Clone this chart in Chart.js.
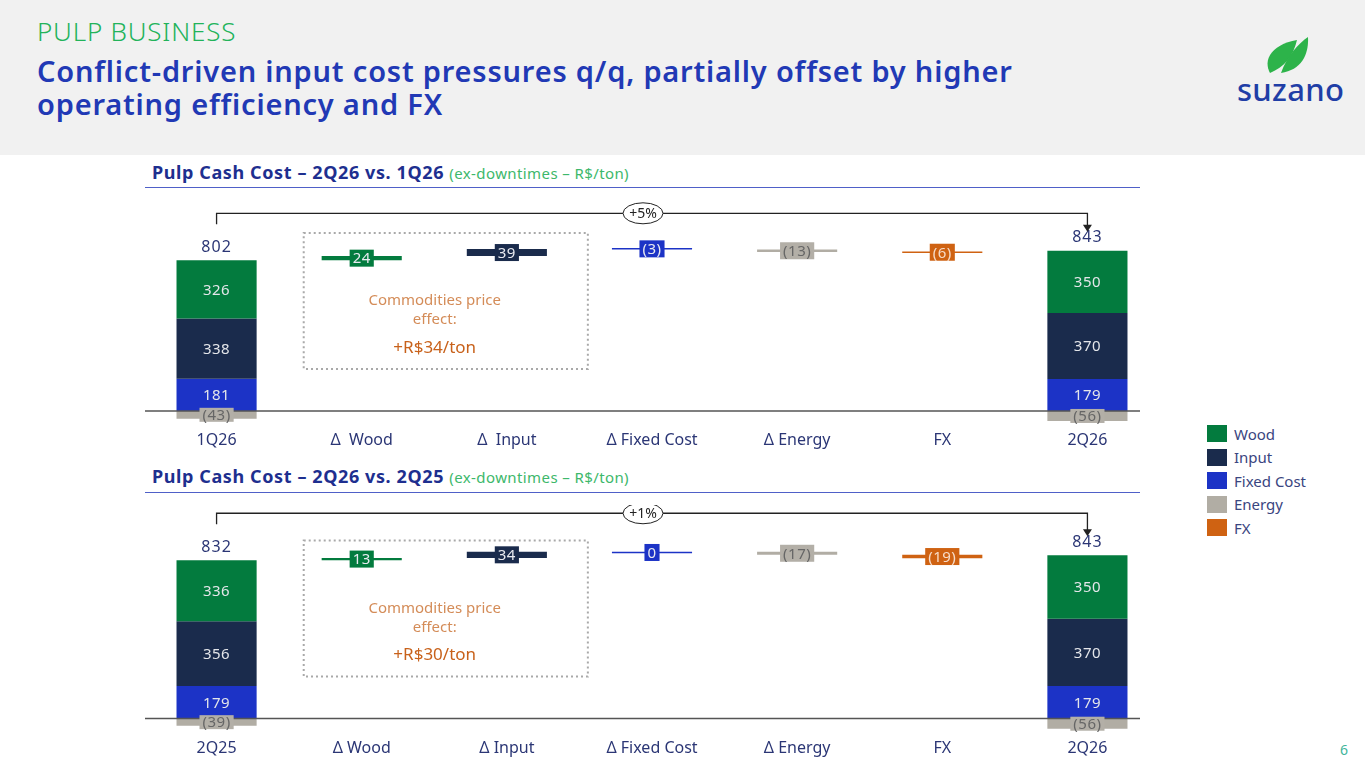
<!DOCTYPE html>
<html>
<head>
<meta charset="utf-8">
<script src="https://cdn.jsdelivr.net/npm/chart.js@4"></script>
<style>
  body { margin: 0; width: 1365px; height: 768px; overflow: hidden; background: #fff; font-family: 'Noto Sans', sans-serif; position: relative; }
  .topo { position: absolute; left: 0; top: 0; width: 1365px; height: 155px; background: #F1F1F1; }
  .secao { position: absolute; left: 37px; top: 13px; font-size: 26px; font-weight: 300; color: #22B35A; letter-spacing: 0.8px; }
  .titulo { position: absolute; left: 37px; top: 54px; font-size: 29px; font-weight: 600; color: #2139B5; line-height: 33px; letter-spacing: 0.8px; }
  .marca { position: absolute; left: 1237px; top: 68px; font-size: 31px; font-weight: 500; color: #1F3EA6; letter-spacing: 0.3px; }
  .subtitulo { position: absolute; left: 152px; font-size: 18px; font-weight: 700; color: #1E2F8F; letter-spacing: 0.6px; }
  .subtitulo span { font-weight: 400; font-size: 15px; color: #3DB86B; letter-spacing: 0.4px; }
  .linha { position: absolute; left: 145px; width: 995px; height: 0; border-top: 1.5px solid #4F60C8; }
  canvas { position: absolute; left: 144px; }
  .legenda { position: absolute; left: 1207px; top: 422px; }
  .item { height: 23.5px; display: flex; align-items: center; font-size: 15px; color: #3A4580; }
  .item i { display: inline-block; width: 20px; height: 17px; margin-right: 7px; }
  .pagina { position: absolute; left: 1340px; top: 740px; font-size: 14px; color: #40B59A; }
</style>
</head>
<body>
<div class="topo"></div>
<div class="secao">PULP BUSINESS</div>
<div class="titulo">Conflict-driven input cost pressures q/q, partially offset by higher<br>operating efficiency and FX</div>
<svg style="position:absolute;left:0;top:0" width="1365" height="155">
  <path d="M1270 73 C1262 58 1274 44 1297 40 C1293 57 1284 67 1270 73 Z" fill="#2DB34A"/>
  <path d="M1281 73 C1301 70 1309 55 1308 37 C1298 44 1287 56 1281 73 Z" fill="#2DB34A"/>
</svg>
<div class="marca">suzano</div>

<div class="subtitulo" style="top:160px">Pulp Cash Cost – 2Q26 vs. 1Q26 <span>(ex-downtimes – R$/ton)</span></div>
<div class="linha" style="top:187px"></div>
<canvas id="grafico-trimestre" width="1016" height="255" style="top:197px;width:1016px;height:255px"></canvas>

<div class="subtitulo" style="top:464px">Pulp Cash Cost – 2Q26 vs. 2Q25 <span>(ex-downtimes – R$/ton)</span></div>
<div class="linha" style="top:492px"></div>
<canvas id="grafico-ano" width="1016" height="255" style="top:505px;width:1016px;height:255px"></canvas>

<div class="legenda" id="legenda"></div>
<div class="pagina">6</div>

<script>
const series = ['Wood', 'Input', 'Fixed Cost', 'Energy', 'FX'];
const cores = ['#037B3E', '#1A2B4C', '#1C33C6', '#B1ADA4', '#CF6212'];

// 2Q26 vs 1Q26
const categoriasTri = ['1Q26', 'Δ  Wood', 'Δ  Input', 'Δ Fixed Cost', 'Δ Energy', 'FX', '2Q26'];
const inicioTri = [326, 338, 181, -43];   // Wood, Input, Fixed Cost, Energy
const variacaoTri = [24, 39, -3, -13, -6];
const fimTri = [350, 370, 179, -56];
const totaisTri = [802, 843];

// 2Q26 vs 2Q25
const categoriasAno = ['2Q25', 'Δ Wood', 'Δ Input', 'Δ Fixed Cost', 'Δ Energy', 'FX', '2Q26'];
const inicioAno = [336, 356, 179, -39];
const variacaoAno = [13, 34, 0, -17, -19];
const fimAno = [350, 370, 179, -56];
const totaisAno = [832, 843];

let chartInstances = {};

function rotulo(v) {
  return v < 0 ? '(' + Math.abs(v) + ')' : String(v);
}

// faixas empilhadas de uma coluna de total: Fixed Cost embaixo, depois Input, Wood; Energy negativa
function faixasTotal(comp) {
  const wood = comp[0], input = comp[1], fixo = comp[2], energia = comp[3];
  return [
    [fixo + input, fixo + input + wood],
    [fixo, fixo + input],
    [0, fixo],
    [energia, 0],
    null
  ];
}

function montarDatasets(inicio, variacao, fim) {
  const a = faixasTotal(inicio);
  const b = faixasTotal(fim);
  let nivel = inicio[0] + inicio[1] + inicio[2];
  const datasets = series.map((nome, i) => ({
    label: nome,
    backgroundColor: cores[i],
    data: new Array(7).fill(null),
    valores: new Array(7).fill(null)
  }));
  series.forEach((nome, i) => {
    const ds = datasets[i];
    if (a[i]) { ds.data[0] = a[i]; ds.valores[0] = inicio[i]; }
    if (b[i]) { ds.data[6] = b[i]; ds.valores[6] = fim[i]; }
    ds.data[i + 1] = [nivel, nivel + variacao[i]];
    ds.valores[i + 1] = variacao[i];
    nivel += variacao[i];
  });
  return datasets;
}

const pluginRotulos = {
  id: 'rotulos',
  afterDatasetsDraw(chart, args, opts) {
    const ctx = chart.ctx;
    const xs = chart.scales.x, ys = chart.scales.y;
    const y0 = ys.getPixelForValue(0);
    const fonte = "'Noto Sans', sans-serif";
    ctx.save();

    // linha de base
    ctx.strokeStyle = '#555';
    ctx.lineWidth = 1.5;
    ctx.beginPath();
    ctx.moveTo(1, y0);
    ctx.lineTo(996, y0);
    ctx.stroke();

    // rotulos das barras
    ctx.font = '15px ' + fonte;
    ctx.letterSpacing = '0.5px';
    ctx.textAlign = 'center';
    ctx.textBaseline = 'middle';
    chart.data.datasets.forEach((ds, di) => {
      const meta = chart.getDatasetMeta(di);
      meta.data.forEach((el, idx) => {
        const v = ds.valores[idx];
        if (v === null || v === undefined) return;
        const txt = rotulo(v);
        const cy = (el.y + el.base) / 2;
        const total = idx === 0 || idx === 6;
        const energia = series[di] === 'Energy';
        if (total && !energia) {
          ctx.fillStyle = '#E4E6EA';
          ctx.fillText(txt, el.x, cy + 1);
          return;
        }
        const w = ctx.measureText(txt).width + 6;
        const h = total ? 14 : 17;
        ctx.fillStyle = energia ? '#B3AFA7' : cores[di];
        ctx.fillRect(el.x - w / 2, cy - h / 2, w, h);
        ctx.fillStyle = energia ? '#666' : (series[di] === 'FX' ? '#F7DCC8' : '#E8EAF0');
        ctx.fillText(txt, el.x, cy + 1);
      });
    });

    // totais acima das colunas
    const topo = [0, 6].map(idx => Math.min(...chart.data.datasets.map((ds, di) => {
      const el = chart.getDatasetMeta(di).data[idx];
      return ds.data[idx] ? Math.min(el.y, el.base) : Infinity;
    })));
    const x0 = xs.getPixelForValue(0), x1 = xs.getPixelForValue(6);
    ctx.font = '16px ' + fonte;
    ctx.letterSpacing = '1px';
    ctx.fillStyle = '#2B3675';
    ctx.fillText(String(opts.totais[0]), x0, topo[0] - 13);
    ctx.fillText(String(opts.totais[1]), x1, topo[1] - 13);
    ctx.letterSpacing = '0px';

    // colchete com seta
    const yb = topo[0] - 47;
    ctx.strokeStyle = '#222';
    ctx.lineWidth = 1.3;
    ctx.beginPath();
    ctx.moveTo(x0, yb + 11);
    ctx.lineTo(x0, yb);
    ctx.lineTo(x1, yb);
    ctx.lineTo(x1, topo[1] - 25);
    ctx.stroke();
    ctx.fillStyle = '#222';
    ctx.beginPath();
    ctx.moveTo(x1 - 4.5, topo[1] - 26);
    ctx.lineTo(x1 + 4.5, topo[1] - 26);
    ctx.lineTo(x1, topo[1] - 19);
    ctx.closePath();
    ctx.fill();

    const xe = xs.getPixelForValue(3) - 9;
    ctx.fillStyle = '#fff';
    ctx.beginPath();
    ctx.ellipse(xe, yb, 20, 10.5, 0, 0, Math.PI * 2);
    ctx.fill();
    ctx.lineWidth = 1;
    ctx.stroke();
    ctx.fillStyle = '#222';
    ctx.font = '14px ' + fonte;
    ctx.fillText(opts.pct, xe, yb + 1);

    // caixa pontilhada do efeito de commodities
    const bx0 = xs.getPixelForValue(1) - 58, bx1 = xs.getPixelForValue(2) + 81;
    ctx.strokeStyle = '#A9A9A9';
    ctx.lineWidth = 2;
    ctx.setLineDash([2, 3]);
    ctx.strokeRect(bx0, y0 - 178, bx1 - bx0, 136);
    ctx.setLineDash([]);
    const xt = bx0 + 131;
    ctx.font = '15px ' + fonte;
    ctx.fillStyle = '#D48C58';
    ctx.fillText('Commodities price', xt, y0 - 110);
    ctx.fillText('effect:', xt, y0 - 91);
    ctx.font = '17px ' + fonte;
    ctx.fillStyle = '#C8611A';
    ctx.fillText(opts.efeito, xt, y0 - 63);
    ctx.restore();
  }
};

function criarGrafico(id, categorias, inicio, variacao, fim, totais, pct, efeito, maximo) {
  chartInstances[id] = new Chart(document.getElementById(id).getContext('2d'), {
    type: 'bar',
    data: {
      labels: categorias,
      datasets: montarDatasets(inicio, variacao, fim)
    },
    options: {
      responsive: false,
      maintainAspectRatio: false,
      animation: false,
      layout: { padding: 0 },
      datasets: {
        bar: { grouped: false, categoryPercentage: 1, barPercentage: 0.552, minBarLength: 1.5 }
      },
      plugins: {
        legend: { display: false },
        tooltip: { enabled: false },
        rotulos: { totais: totais, pct: pct, efeito: efeito }
      },
      scales: {
        x: {
          grid: { display: false, drawTicks: false },
          border: { display: false },
          ticks: { color: '#2B3675', font: { family: "'Noto Sans', sans-serif", size: 16 }, padding: 2, maxRotation: 0, autoSkip: false }
        },
        y: { display: false, min: -100, max: maximo }
      }
    },
    plugins: [pluginRotulos]
  });
}

criarGrafico('grafico-trimestre', categoriasTri, inicioTri, variacaoTri, fimTri, totaisTri, '+5%', '+R$34/ton', 1200);
criarGrafico('grafico-ano', categoriasAno, inicioAno, variacaoAno, fimAno, totaisAno, '+1%', '+R$30/ton', 1175);

document.getElementById('legenda').innerHTML = series.map((nome, i) =>
  '<div class="item"><i style="background:' + cores[i] + '"></i>' + nome + '</div>').join('');
</script>
</body>
</html>
